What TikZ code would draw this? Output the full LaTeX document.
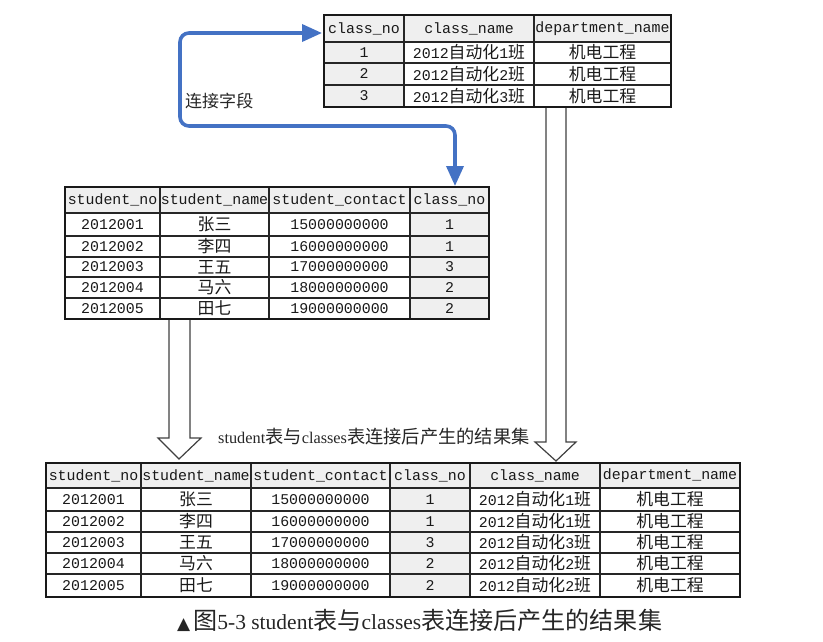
\documentclass[tikz,border=0pt]{standalone}
\usepackage{fontspec}
\setmainfont{Liberation Serif}
\newfontfamily\monof{Liberation Mono}
\newfontfamily\cjkt[Scale=1.13]{Noto Sans CJK SC}
\newfontfamily\cjkc[Scale=1.12]{Noto Sans CJK SC}
\newfontfamily\symf{DejaVu Sans}
\newcommand\zt[1]{{\cjkt #1}}
\newcommand\zc[1]{{\cjkc #1}}
\usetikzlibrary{arrows.meta}
\definecolor{linkblue}{RGB}{68,114,196}
\definecolor{hdrgray}{RGB}{239,239,239}
\begin{document}
\begin{tikzpicture}[x=1pt,y=-1pt,
  cell/.style={inner sep=0pt, font=\monof\fontsize{14.9}{16}\selectfont, text=black!90, anchor=center},
  gridin/.style={line width=1.1pt, draw=black!85},
  gridout/.style={line width=2pt, draw=black!90},
  hollow/.style={draw=black!75, line width=1.2pt, fill=white, line join=miter},
  link/.style={draw=linkblue, line width=3.6pt, rounded corners=9pt,
    {Triangle[length=20pt,width=17pt]}-{Triangle[length=20pt,width=17pt]}},
  lbl/.style={inner sep=0pt, text=black!85}
  ]
\useasboundingbox (0,0) rectangle (823,641);

% ---------------- top table (classes)
\fill[hdrgray] (324,15) rectangle (671,42);
\fill[hdrgray] (324,42) rectangle (404,107);
\foreach \x in {404,534} \draw[gridin] (\x,15) -- (\x,107);
\foreach \y in {42,63,85} \draw[gridin] (324,\y) -- (671,\y);
\draw[gridout] (324,15) rectangle (671,107);
\node[cell] (th1) at (364,28.5) {class\_no};
\node[cell] (th2) at (469,28.5) {class\_name};
\node[cell] (th3) at (602.5,28.5) {department\_name};
\foreach \r/\y in {1/52.5,2/74,3/96} {
  \node[cell] (t\r-a) at (364,\y) {\r};
  \node[cell] (t\r-b) at (469,\y) {2012\zt{自动化}\r\zt{班}};
  \node[cell] (t\r-c) at (602.5,\y) {\zt{机电工程}};
}

% ---------------- middle table (student)
\fill[hdrgray] (65,187) rectangle (489,213);
\fill[hdrgray] (410,213) rectangle (489,319);
\foreach \x in {160,269,410} \draw[gridin] (\x,187) -- (\x,319);
\foreach \y in {213,236,257,277,298} \draw[gridin] (65,\y) -- (489,\y);
\draw[gridout] (65,187) rectangle (489,319);
\node[cell] (mh1) at (112.5,200) {student\_no};
\node[cell] (mh2) at (214.5,200) {student\_name};
\node[cell] (mh3) at (339.5,200) {student\_contact};
\node[cell] (mh4) at (449.5,200) {class\_no};
\foreach \r/\y/\a/\b/\c/\d in {
  1/224.5/2012001/张三/15000000000/1,
  2/246.5/2012002/李四/16000000000/1,
  3/267/2012003/王五/17000000000/3,
  4/287.5/2012004/马六/18000000000/2,
  5/308.5/2012005/田七/19000000000/2} {
  \node[cell] (m\r-a) at (112.5,\y) {\a};
  \node[cell] (m\r-b) at (214.5,\y) {\zt{\b}};
  \node[cell] (m\r-c) at (339.5,\y) {\c};
  \node[cell] (m\r-d) at (449.5,\y) {\d};
}

% ---------------- bottom table (result)
\fill[hdrgray] (46,463) rectangle (740,488);
\fill[hdrgray] (390,488) rectangle (470,597);
\foreach \x in {141,251,390,470,600} \draw[gridin] (\x,463) -- (\x,597);
\foreach \y in {488,511,532,553,574} \draw[gridin] (46,\y) -- (740,\y);
\draw[gridout] (46,463) rectangle (740,597);
\node[cell] (bh1) at (93.5,475.5) {student\_no};
\node[cell] (bh2) at (196,475.5) {student\_name};
\node[cell] (bh3) at (320.5,475.5) {student\_contact};
\node[cell] (bh4) at (430,475.5) {class\_no};
\node[cell] (bh5) at (535,475.5) {class\_name};
\node[cell] (bh6) at (670,475.5) {department\_name};
\foreach \r/\y/\a/\b/\c/\d in {
  1/499.5/2012001/张三/15000000000/1,
  2/521.5/2012002/李四/16000000000/1,
  3/542.5/2012003/王五/17000000000/3,
  4/563.5/2012004/马六/18000000000/2,
  5/585.5/2012005/田七/19000000000/2} {
  \node[cell] (b\r-a) at (93.5,\y) {\a};
  \node[cell] (b\r-b) at (196,\y) {\zt{\b}};
  \node[cell] (b\r-c) at (320.5,\y) {\c};
  \node[cell] (b\r-d) at (430,\y) {\d};
  \node[cell] (b\r-e) at (535,\y) {2012\zt{自动化}\d\zt{班}};
  \node[cell] (b\r-f) at (670,\y) {\zt{机电工程}};
}

% ---------------- hollow arrows
\draw[hollow] (169,320) -- (169,438) -- (158,438) -- (179,459) -- (201,438) -- (190,438) -- (190,320);
\draw[hollow] (546,108) -- (546,442) -- (535,442) -- (556,461) -- (576,442) -- (566,442) -- (566,108);

% ---------------- blue link arrow
\coordinate (linkA) at (322,33);
\coordinate (linkB) at (455,186);
\coordinate (k1) at (180,33);
\coordinate (k2) at (180,126);
\coordinate (k3) at (455,126);
\draw[link] (linkA) -- (k1) -- (k2) -- (k3) -- (linkB);

% ---------------- labels
\node[lbl, anchor=west] (l1) at (185,101) {\fontsize{15.2}{18}\selectfont\zc{连接字段}};
\node[lbl, anchor=west] (l2) at (218,437) {\fontsize{16.3}{19}\selectfont student\zc{表与}classes\zc{表连接后产生的结果集}};
\node[lbl, anchor=west] (cap) at (177,620) {{\symf\fontsize{17}{20}\selectfont ▲}\hspace{3pt}\fontsize{21.5}{25}\selectfont\zc{图}5-3 student\zc{表与}classes\zc{表连接后产生的结果集}};
\end{tikzpicture}
\end{document}
